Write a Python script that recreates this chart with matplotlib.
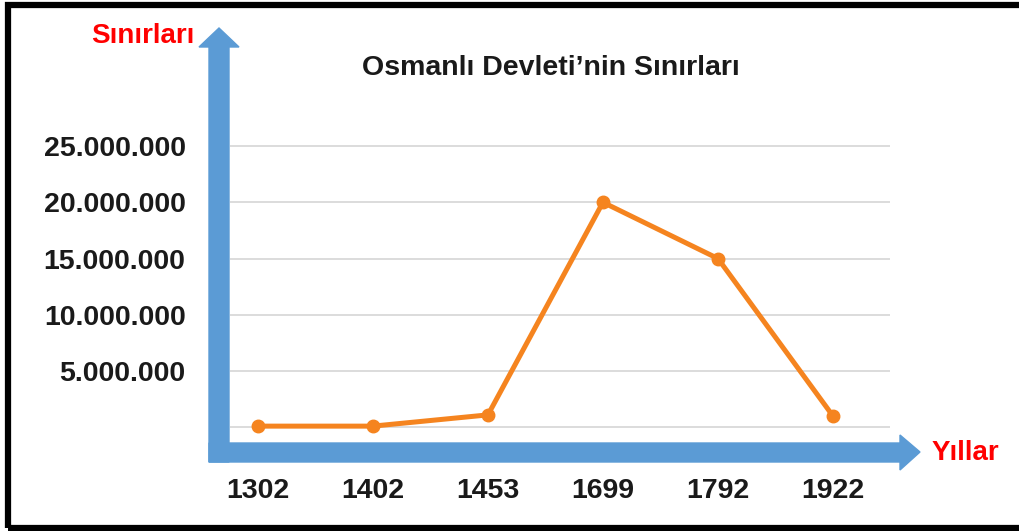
import matplotlib
matplotlib.use("Agg")
import matplotlib.pyplot as plt
from matplotlib.patches import Polygon, Rectangle

years = ["1302", "1402", "1453", "1699", "1792", "1922"]
borders = [100000, 100000, 1100000, 20000000, 15000000, 1000000]
ytick_values = [5000000, 10000000, 15000000, 20000000, 25000000]
ytick_labels = ["5.000.000", "10.000.000", "15.000.000", "20.000.000", "25.000.000"]

plt.rcParams['font.family'] = ['Liberation Sans', 'DejaVu Sans']

W, H = 1020, 531
fig = plt.figure(figsize=(W / 100, H / 100), dpi=100)

# axes box in pixel terms (top-down pixels from the reference)
left, right, top, bottom = 230, 890, 28, 443
ax = fig.add_axes([left / W, (H - bottom) / H, (right - left) / W, (bottom - top) / H])

x = range(len(years))
ax.plot(x, borders, color='#F5841F', lw=3.6, marker='o', ms=9, zorder=3, clip_on=False)

ax.set_xlim(-0.243, 5.496)
ax.set_ylim(-1400000, 35500000)
ax.set_xticks(list(x))
ax.set_xticklabels(years, fontsize=20.5, fontweight='bold', color='#1a1a1a')
ax.set_yticks([0] + ytick_values)
ax.set_yticklabels([""] + ytick_labels, fontsize=20.5, fontweight='bold', color='#1a1a1a')
ax.tick_params(axis='x', length=0, pad=25)
ax.tick_params(axis='y', length=0, pad=32)
ax.grid(axis='y', color='#D9D9D9', lw=1.3)
ax.set_axisbelow(True)
for s in ax.spines.values():
    s.set_visible(False)


def px(points):
    return [(a / 100, (H - b) / 100) for a, b in points]


blue = '#5B9BD5'
# vertical arrow
fig.add_artist(Polygon(px([(209, 462), (229, 462), (229, 47), (239, 47), (219, 28), (199, 47), (209, 47)]),
                       closed=True, transform=fig.dpi_scale_trans, color=blue, zorder=5))
# horizontal arrow
fig.add_artist(Polygon(px([(209, 443), (900, 443), (900, 435), (920, 452), (900, 470), (900, 462), (209, 462)]),
                       closed=True, transform=fig.dpi_scale_trans, color=blue, zorder=5))

fig.text(551 / W, 1 - 68 / H, "Osmanlı Devleti’nin Sınırları", ha='center', va='center',
         fontsize=20.5, fontweight='bold', color='#1a1a1a')
fig.text(195 / W, 1 - 36 / H, "Sınırları", ha='right', va='center',
         fontsize=20, fontweight='bold', color='#FF0000')
fig.text(932 / W, 1 - 453 / H, "Yıllar", ha='left', va='center',
         fontsize=20, fontweight='bold', color='#FF0000')

# frame around the picture
fig.add_artist(Rectangle((8 / 100, (H - 528) / 100), (W + 20 - 8) / 100, (528 - 5) / 100,
                         transform=fig.dpi_scale_trans, fill=False, ec='black', lw=4.5))

fig.savefig("out.png", dpi=100)
